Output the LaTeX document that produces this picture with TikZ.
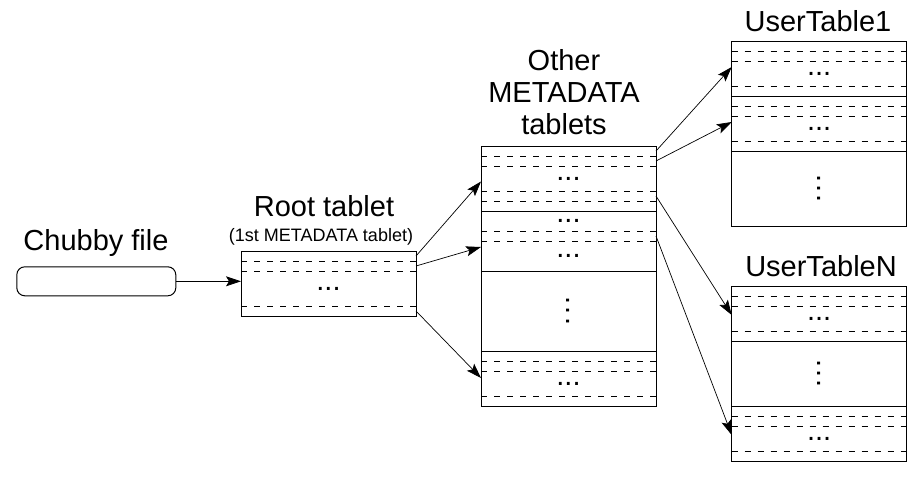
\documentclass[tikz,border=0pt]{standalone}
\usepackage{fontspec}
\setmainfont{Liberation Sans}
\usetikzlibrary{positioning,arrows.meta}
\begin{document}
\begin{tikzpicture}[x=1pt, y=-1pt, font=\fontsize{29}{32}\selectfont,
  row/.style={minimum width=175pt, minimum height=#1, inner sep=0pt, outer sep=0pt},
  vdots/.style={rotate=-90},
  sep/.style={dash pattern=on 6pt off 7pt, line width=0.8pt},
  frame/.style={line width=1pt},
  link/.style={-{Stealth[length=15pt,width=10pt,inset=3pt]}, line width=0.7pt}]
\useasboundingbox (0,0) rectangle (921,477);

% chubby file
\node[anchor=base] (chubbylabel) at (96,250) {Chubby file};
\node[draw, frame, rounded corners=8pt, minimum width=159pt, minimum height=29pt] (chubby) at (96.3,281.3) {};

% root tablet
\node[anchor=base] (rootlabel) at (324,216) {Root tablet};
\node[anchor=base, font=\fontsize{18}{20}\selectfont] (rootnote) at (321,241.7) {(1st METADATA tablet)};
\node[row=10pt, anchor=north west] (r1) at (241,251) {};
\node[row=10pt, below=0pt of r1] (r2) {};
\node[row=35pt, below=0pt of r2] (r3) {...};
\node[row=10pt, below=0pt of r3] (r4) {};
\draw[frame] (r1.north west) rectangle (r4.south east);
\foreach \r in {r1,r2,r3}
  \draw[sep] (\r.south west) -- (\r.south east);

% other metadata tablets
\node[align=center, anchor=base] (metalabel) at (564,134.3) {Other\\METADATA\\tablets};
\node[row=10pt, anchor=north west] (m1) at (481,146) {};
\node[row=10pt, below=0pt of m1] (m2) {};
\node[row=25pt, below=0pt of m2] (m3) {...};
\node[row=10pt, below=0pt of m3] (m4) {};
\node[row=10pt, below=0pt of m4] (m5) {};
\node[row=20pt, below=0pt of m5] (m6) {...};
\node[row=10pt, below=0pt of m6] (m7) {};
\node[row=30pt, below=0pt of m7] (m8) {...};
\node[row=80pt, below=0pt of m8] (m9) {};
\node[vdots] (m9dots) at (m9) {.\kern2pt.\kern2pt.};
\node[row=10pt, below=0pt of m9] (m10) {};
\node[row=10pt, below=0pt of m10] (m11) {};
\node[row=25pt, below=0pt of m11] (m12) {...};
\node[row=10pt, below=0pt of m12] (m13) {};
\draw[frame] (m1.north west) rectangle (m13.south east);
\foreach \r in {m1,m2,m3,m4,m6,m7,m10,m11,m12}
  \draw[sep] (\r.south west) -- (\r.south east);
\foreach \r in {m5,m8,m9}
  \draw[frame] (\r.south west) -- (\r.south east);

% user table 1
\node[anchor=base] (u1label) at (818,31.7) {UserTable1};
\node[row=10pt, anchor=north west] (u1) at (731.7,41) {};
\node[row=10pt, below=0pt of u1] (u2) {};
\node[row=25pt, below=0pt of u2] (u3) {...};
\node[row=10pt, below=0pt of u3] (u4) {};
\node[row=10pt, below=0pt of u4] (u5) {};
\node[row=10pt, below=0pt of u5] (u6) {};
\node[row=25pt, below=0pt of u6] (u7) {...};
\node[row=10pt, below=0pt of u7] (u8) {};
\node[row=75pt, below=0pt of u8] (u9) {};
\node[vdots] (u9dots) at (u9) {.\kern2pt.\kern2pt.};
\draw[frame] (u1.north west) rectangle (u9.south east);
\foreach \r in {u1,u2,u3,u5,u6,u7}
  \draw[sep] (\r.south west) -- (\r.south east);
\foreach \r in {u4,u8}
  \draw[frame] (\r.south west) -- (\r.south east);

% user table N
\node[anchor=base] (nlabel) at (821,276.7) {UserTableN};
\node[row=10pt, anchor=north west] (n1) at (731.7,286) {};
\node[row=10pt, below=0pt of n1] (n2) {};
\node[row=25pt, below=0pt of n2] (n3) {...};
\node[row=10pt, below=0pt of n3] (n4) {};
\node[row=65pt, below=0pt of n4] (n5) {};
\node[vdots] (n5dots) at (n5) {.\kern2pt.\kern2pt.};
\node[row=10pt, below=0pt of n5] (n6) {};
\node[row=10pt, below=0pt of n6] (n7) {};
\node[row=25pt, below=0pt of n7] (n8) {...};
\node[row=10pt, below=0pt of n8] (n9) {};
\draw[frame] (n1.north west) rectangle (n9.south east);
\foreach \r in {n1,n2,n3,n6,n7,n8}
  \draw[sep] (\r.south west) -- (\r.south east);
\foreach \r in {n4,n5}
  \draw[frame] (\r.south west) -- (\r.south east);

% links
\draw[link] (chubby.east) -- (chubby.east -| r3.west);
\draw[link] (r1.east) -- ([yshift=-3pt]m3.west);
\draw[link] (r2.east) -- ([yshift=-6pt]m8.north west);
\draw[link] (r4.east) -- ([yshift=-7pt]m12.north west);
\draw[link] (m1.east) -- ([yshift=-6pt]u3.north west);
\draw[link] (m2.east) -- ([yshift=-6pt]u7.north west);
\draw[link] (m4.east) -- ([yshift=-9pt]n3.north west);
\draw[link] (m7.east) -- ([yshift=-9pt]n8.north west);
\end{tikzpicture}
\end{document}
